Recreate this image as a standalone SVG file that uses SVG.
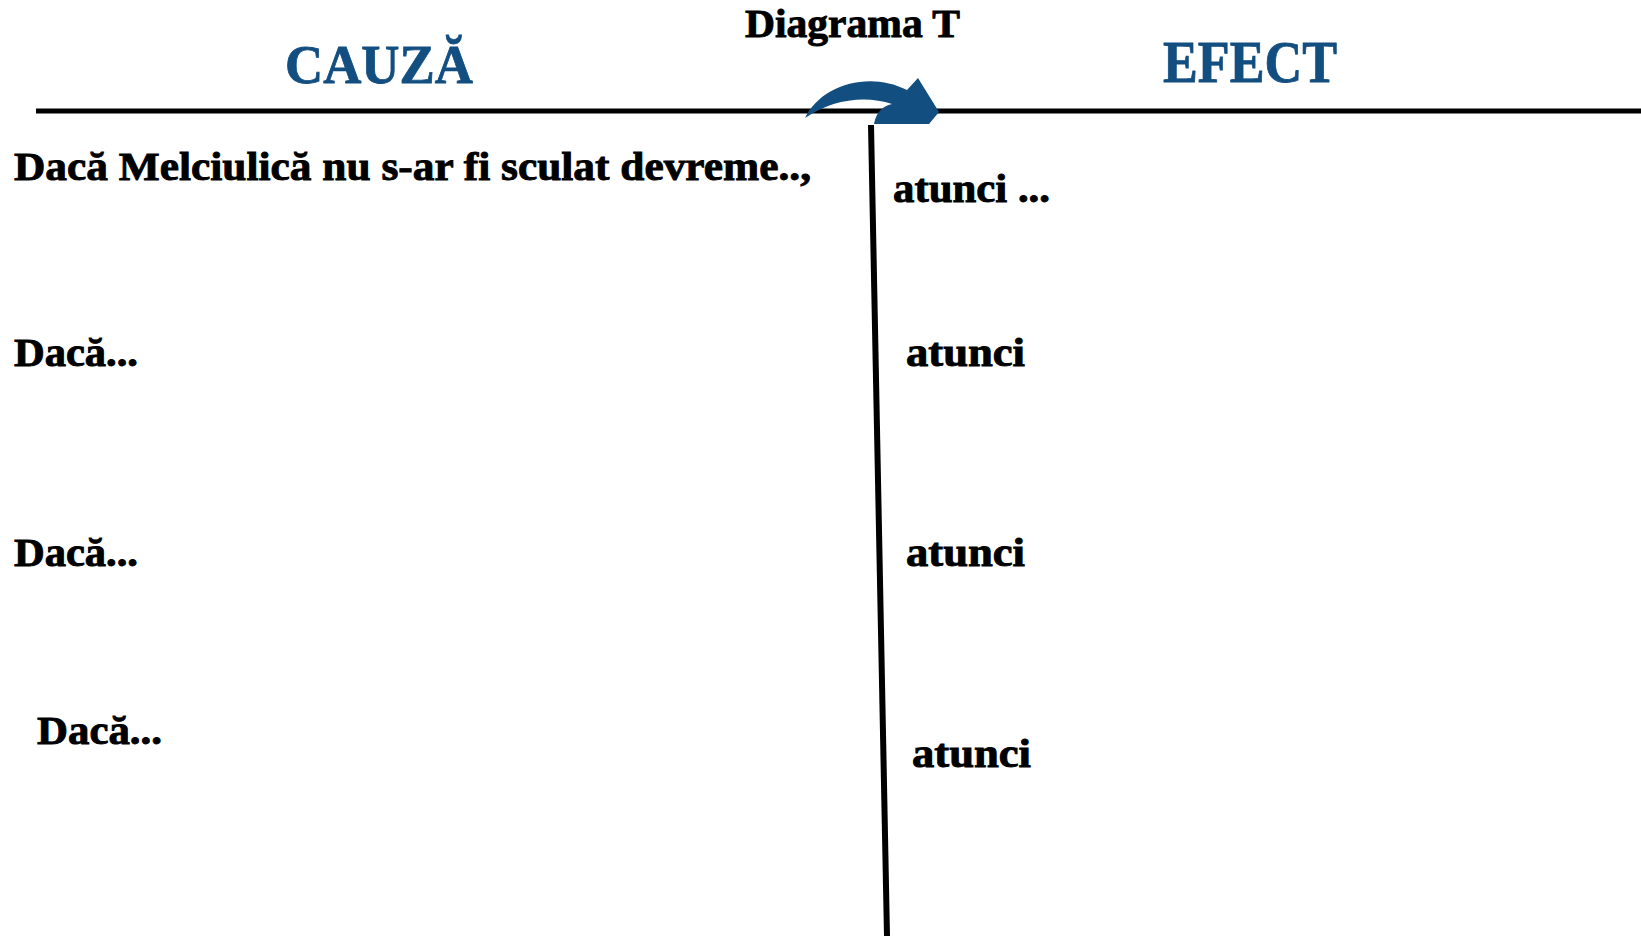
<svg xmlns="http://www.w3.org/2000/svg" width="1641" height="936" viewBox="0 0 1641 936">
<style>
.t{font-family:"Liberation Serif","DejaVu Serif",serif;font-weight:bold;fill:#000;stroke:#000;stroke-width:0.9;font-size:40px}
.h{font-family:"Liberation Serif","DejaVu Serif",serif;font-weight:bold;fill:#134e81;stroke:#134e81;stroke-width:0.8}
</style>
<rect width="1641" height="936" fill="#fff"/>
<g id="connectors">
<line x1="36" y1="111" x2="1641" y2="111" stroke="#000" stroke-width="5"/>
<line x1="871" y1="125" x2="887" y2="936" stroke="#000" stroke-width="6"/>
</g>
<g id="arrow">
<path d="M805,118 C820,86 868,70 907,90 L918,78 L939,112 L929,124 L874,124 C876,113 882,106 892,104 C866,95 832,99 805,118 Z" fill="#134e81"/>
</g>
<g id="title"><text class="t" x="745" y="37" font-size="37" textLength="215" lengthAdjust="spacingAndGlyphs">Diagrama T</text></g>
<g id="cauza"><text class="h" x="285" y="83" font-size="55" textLength="188" lengthAdjust="spacingAndGlyphs">CAUZĂ</text></g>
<g id="efect"><text class="h" x="1163" y="82" font-size="60" textLength="174" lengthAdjust="spacingAndGlyphs">EFECT</text></g>
<g id="cause1"><text class="t" x="14" y="180" textLength="797" lengthAdjust="spacingAndGlyphs">Dacă Melciulică nu s-ar fi sculat devreme..,</text></g>
<g id="effect1"><text class="t" x="893" y="202" textLength="157" lengthAdjust="spacingAndGlyphs">atunci ...</text></g>
<g id="cause2"><text class="t" x="14" y="366" textLength="124" lengthAdjust="spacingAndGlyphs">Dacă...</text></g>
<g id="effect2"><text class="t" x="906" y="366" textLength="119" lengthAdjust="spacingAndGlyphs">atunci</text></g>
<g id="cause3"><text class="t" x="14" y="566" textLength="124" lengthAdjust="spacingAndGlyphs">Dacă...</text></g>
<g id="effect3"><text class="t" x="906" y="566" textLength="119" lengthAdjust="spacingAndGlyphs">atunci</text></g>
<g id="cause4"><text class="t" x="37" y="744" textLength="125" lengthAdjust="spacingAndGlyphs">Dacă...</text></g>
<g id="effect4"><text class="t" x="912" y="767" textLength="119" lengthAdjust="spacingAndGlyphs">atunci</text></g>
</svg>
